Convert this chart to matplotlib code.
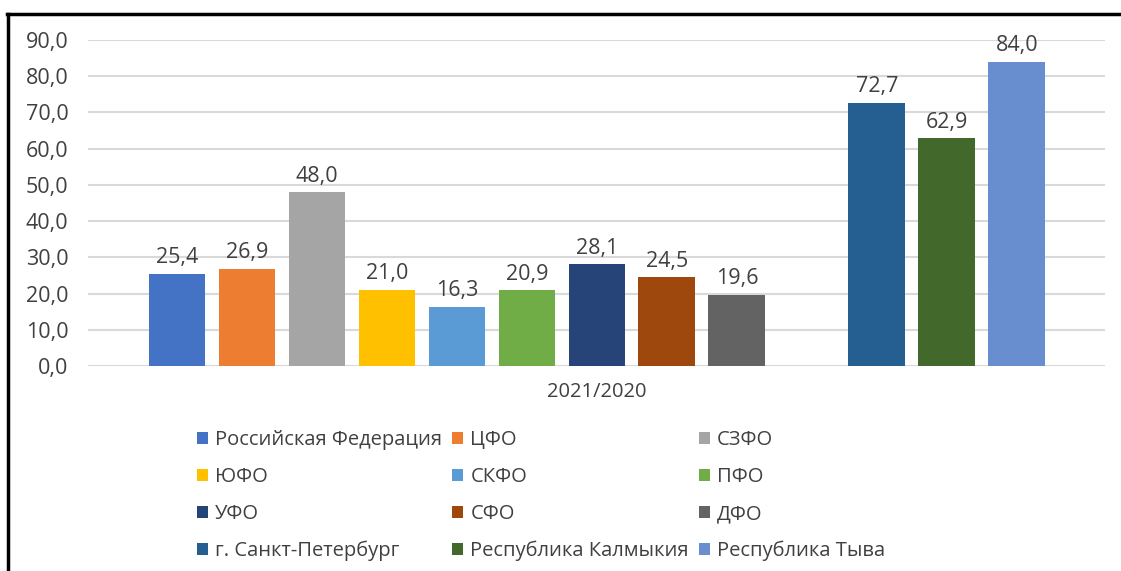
import matplotlib.pyplot as plt
from matplotlib.lines import Line2D

plt.rcParams['font.family'] = ['Open Sans', 'DejaVu Sans']

# data
labels = ['Российская Федерация', 'ЦФО', 'СЗФО', 'ЮФО', 'СКФО', 'ПФО',
          'УФО', 'СФО', 'ДФО', 'г. Санкт-Петербург', 'Республика Калмыкия',
          'Республика Тыва']
values = [25.4, 26.9, 48.0, 21.0, 16.3, 20.9, 28.1, 24.5, 19.6, 72.7, 62.9, 84.0]
slots = [0, 1, 2, 3, 4, 5, 6, 7, 8, 10, 11, 12]
colors = ['#4472C4', '#ED7D31', '#A5A5A5', '#FFC000', '#5B9BD5', '#70AD47',
          '#264478', '#9E480E', '#636363', '#255E91', '#43682B', '#698ED0']
y_ticks = [0, 10, 20, 30, 40, 50, 60, 70, 80, 90]
x_label = '2021/2020'

txt_col = '#404040'
fs = 15.5

fig = plt.figure(figsize=(11.21, 5.71), dpi=100)
ax = fig.add_axes([88/1121, 1-366/571, (1105-88)/1121, (366-40)/571])

handles = []
for s, v, c, lab in zip(slots, values, colors, labels):
    b = ax.bar(s, v, width=0.81, color=c, label=lab, zorder=3)
    handles.append(b)
    ax.annotate(f'{v:.1f}'.replace('.', ','), (s, v), xytext=(0, 4),
                textcoords='offset points', ha='center', va='bottom',
                fontsize=fs, color=txt_col)

ax.set_xlim(-1.27, 13.26)
ax.set_ylim(0, 90)
ax.set_yticks(y_ticks)
ax.set_yticklabels([f'{t:.1f}'.replace('.', ',') for t in y_ticks])
ax.set_xticks([])
ax.tick_params(axis='y', length=0, pad=14, labelsize=fs, labelcolor=txt_col)
ax.grid(axis='y', color='#D9D9D9', linewidth=1.5, zorder=0)
for sp in ax.spines.values():
    sp.set_visible(False)

ax.text(0.5, -0.08, x_label, transform=ax.transAxes, ha='center', va='center',
        fontsize=14.5, color=txt_col)

# legend filled row by row like the original
order = [i for c in range(3) for i in range(c, 12, 3)]
leg = fig.legend([handles[i] for i in order], [labels[i] for i in order],
                 ncol=3, loc='upper left', bbox_to_anchor=(179/1121, 1-412/571),
                 frameon=False, fontsize=14.5, handlelength=0.55, handleheight=0.55,
                 handletextpad=0.35, columnspacing=0.5, labelspacing=0.84)
for t in leg.get_texts():
    t.set_color(txt_col)

# chart frame, only top and left edges visible
fig.add_artist(Line2D([7/1121, 1], [1-14/571, 1-14/571], color='black',
                      linewidth=2.5, transform=fig.transFigure))
fig.add_artist(Line2D([8/1121, 8/1121], [0, 1-14/571], color='black',
                      linewidth=2.5, transform=fig.transFigure))

fig.savefig('out.png', dpi=100)
